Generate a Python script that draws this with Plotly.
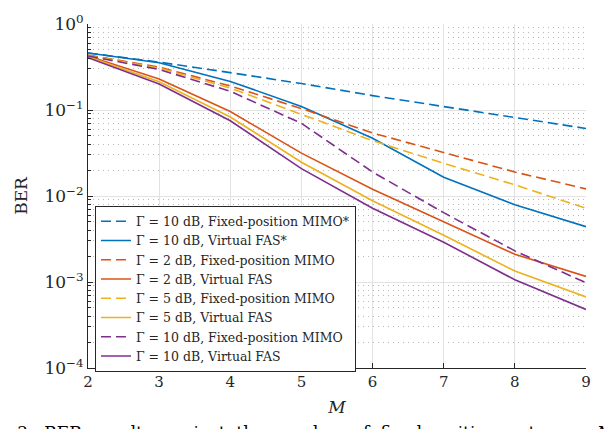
import plotly.graph_objects as go

# Number of fixed-position antennas
M = [2, 3, 4, 5, 6, 7, 8, 9]

# BER curves
fixed_mimo_10_star = [0.46, 0.36, 0.272, 0.203, 0.147, 0.109, 0.081, 0.061]
virtual_fas_10_star = [0.46, 0.355, 0.215, 0.11, 0.047, 0.0165, 0.0079, 0.0044]
fixed_mimo_2 = [0.435, 0.315, 0.19, 0.104, 0.054, 0.032, 0.019, 0.0121]
virtual_fas_2 = [0.425, 0.229, 0.096, 0.0315, 0.012, 0.005, 0.0021, 0.00116]
fixed_mimo_5 = [0.43, 0.307, 0.18, 0.089, 0.044, 0.024, 0.0135, 0.0072]
virtual_fas_5 = [0.415, 0.213, 0.083, 0.0247, 0.0088, 0.0035, 0.00134, 0.00067]
fixed_mimo_10 = [0.425, 0.296, 0.165, 0.07, 0.019, 0.0064, 0.0023, 0.00098]
virtual_fas_10 = [0.405, 0.201, 0.075, 0.0208, 0.0072, 0.0029, 0.00106, 0.00048]

series = [
    ("Γ = 10 dB, Fixed-position MIMO*", fixed_mimo_10_star, "#0072BD", "dash"),
    ("Γ = 10 dB, Virtual FAS*", virtual_fas_10_star, "#0072BD", "solid"),
    ("Γ = 2 dB, Fixed-position MIMO", fixed_mimo_2, "#D95319", "dash"),
    ("Γ = 2 dB, Virtual FAS", virtual_fas_2, "#D95319", "solid"),
    ("Γ = 5 dB, Fixed-position MIMO", fixed_mimo_5, "#EDB120", "dash"),
    ("Γ = 5 dB, Virtual FAS", virtual_fas_5, "#EDB120", "solid"),
    ("Γ = 10 dB, Fixed-position MIMO", fixed_mimo_10, "#7E2F8E", "dash"),
    ("Γ = 10 dB, Virtual FAS", virtual_fas_10, "#7E2F8E", "solid"),
]

y_major = [1e-4, 1e-3, 1e-2, 1e-1, 1]
y_major_text = ["10<sup>−4</sup>", "10<sup>−3</sup>", "10<sup>−2</sup>",
                "10<sup>−1</sup>", "10<sup>0</sup>"]
y_minor = [k * 10.0 ** e for e in range(-4, 0) for k in range(2, 10)]

FONT = "DejaVu Serif, Liberation Serif, serif"
AXIS_COLOR = "#262626"

fig = go.Figure()
for name, vals, color, dash in series:
    fig.add_trace(go.Scatter(
        x=M, y=vals, name=name, mode="lines",
        line=dict(color=color, width=1.6,
                  dash="10px,5px" if dash == "dash" else "solid"),
    ))

fig.update_layout(
    width=605, height=429,
    margin=dict(l=88, r=19, t=12, b=61),
    paper_bgcolor="white", plot_bgcolor="white",
    font=dict(family=FONT, size=15, color=AXIS_COLOR),
    showlegend=True,
    legend=dict(
        x=0.014, y=0.472, xanchor="left", yanchor="top",
        bgcolor="white", bordercolor=AXIS_COLOR, borderwidth=1,
        font=dict(family=FONT, size=12.5, color=AXIS_COLOR),
        tracegroupgap=0, itemwidth=30,
    ),
    xaxis=dict(
        range=[2, 9], tickvals=M, ticktext=[str(m) for m in M],
        showline=True, linecolor=AXIS_COLOR, linewidth=1,
        ticks="inside", ticklen=5, tickcolor=AXIS_COLOR,
        showgrid=True, gridcolor="#e2e2e2", gridwidth=1,
        zeroline=False,
        title=dict(text="<i>M</i>", font=dict(size=17), standoff=11),
        tickfont=dict(size=15),
    ),
    yaxis=dict(
        type="log", range=[-4, 0],
        tickmode="array", tickvals=y_major, ticktext=y_major_text,
        ticklabeloverflow="allow",
        showline=True, linecolor=AXIS_COLOR, linewidth=1,
        ticks="inside", ticklen=5, tickcolor=AXIS_COLOR,
        showgrid=True, gridcolor="#e2e2e2", gridwidth=1,
        zeroline=False,
        title=dict(text="BER", font=dict(size=17), standoff=12),
        tickfont=dict(size=17),
        minor=dict(
            tickmode="array", tickvals=y_minor,
            ticks="inside", ticklen=3, tickcolor=AXIS_COLOR,
            showgrid=True, gridcolor="#b8b8b8", griddash="1px,4px", gridwidth=1,
        ),
    ),
)

# Figure caption line below the axes
fig.add_annotation(
    xref="paper", yref="paper", x=-0.225, y=-0.152,
    xanchor="left", yanchor="top", showarrow=False,
    text=("Fig. 3:&nbsp; BER&nbsp; results&nbsp; against&nbsp; the&nbsp; "
          "number&nbsp; of&nbsp; fixed-position&nbsp; antennas&nbsp; <i>M</i>"),
    font=dict(family=FONT, size=17, color="black"),
)

fig.write_html("out.html")
